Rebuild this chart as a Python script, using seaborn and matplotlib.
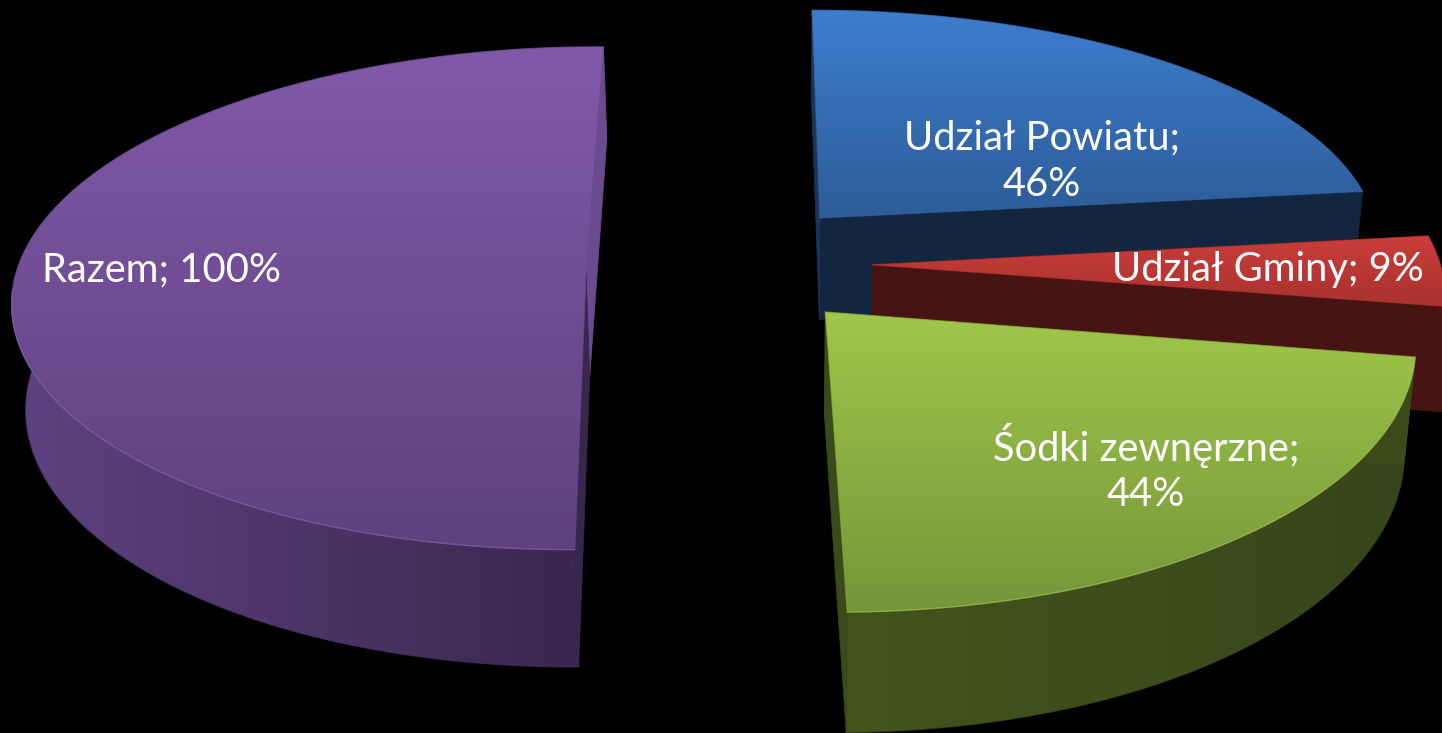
import numpy as np
import seaborn as sns
import matplotlib.pyplot as plt
from matplotlib.patches import Polygon

sns.set_theme(style="white")
plt.rcParams['font.family'] = ['Lato', 'DejaVu Sans']

# values as printed on the labels
categories = ['Udział Powiatu', 'Udział Gminy', 'Śodki zewnęrzne', 'Razem']
shares = [46, 9, 44, 100]
label_lines = ['Udział Powiatu;\n46%', 'Udział Gminy; 9%', 'Śodki zewnęrzne;\n44%', 'Razem; 100%']
label_pos = [(1042, 161), (1268, 270), (1146, 468), (161, 270)]

# colours: top face (far, near), side (left, right), cut faces
top_far = ['#3d7dce', '#cb3d3a', '#a0c74a', '#8159a9']
top_near = ['#2d5c98', '#a93230', '#76953a', '#5f417f']
side_left = ['#13263f', '#461412', '#43541c', '#5e4280']
side_right = ['#13263f', '#461412', '#37461a', '#38264d']
cut_front = ['#13263f', '#461412', '#3a4a18', '#38264d']
cut_back = ['#1a3558', '#461412', '#3a4a18', '#6b4b8f']
rim_col = ['#4a88d4', '#d9605c', '#b4d564', '#9478bd']

# where each slice's tip sits on the pie plane (exploded by hand)
tips = [(0.179, 0.226), (0.268, 0.033), (0.182, -0.154), (-0.235, 0.0)]
radius_x = [0.993, 1.0, 1.012, 1.0]
radius_y = [0.955, 1.0, 1.045, 1.0]
spin = [0, 0, 0, -0.5]
lean = [0.018, 0.0, 0.018, 0.018]

W, H = 1442, 733
A, B, C = 570.0, 72.8, 720.0
E, F, G = -221.6, 273.0, 0.1001


def project(x, y):
    d = 1 + G * y
    return (A * x + B * y + C) / d, (E * y + F) / d


def extrude(u, v, k):
    return u + (790 - u) * k, v + 91 + 0.048 * v


def grad_fill(ax, u, v, c0, c1, z, horizontal=False):
    pts = np.column_stack([u, v])
    pal = np.array(sns.blend_palette([c0, c1], 256))
    img = pal[None, :, :] if horizontal else pal[:, None, :]
    ext = (u.min(), u.max(), v.max(), v.min())
    im = ax.imshow(img, extent=ext, aspect='auto', zorder=z, interpolation='bilinear')
    patch = Polygon(pts, closed=True, transform=ax.transData, facecolor='none', edgecolor='none')
    ax.add_patch(patch)
    im.set_clip_path(patch)
    # soft edge, the clip path alone is jagged
    ax.plot(np.r_[u, u[0]], np.r_[v, v[0]], color=pal[128], lw=0.8, alpha=0.6, zorder=z + 0.1)


fig = plt.figure(figsize=(W / 100, H / 100), dpi=100, facecolor='black')

# the pie gives the slice angles, the picture is drawn in perspective from them
pie_ax = fig.add_axes([0, 0, 1, 1])
wedges, _ = pie_ax.pie(shares, startangle=90, counterclock=False)
pie_ax.set_visible(False)

ax = fig.add_axes([0, 0, 1, 1], facecolor='black')

z = 1
for i, w in enumerate(wedges):
    th = np.radians(np.linspace(w.theta1, w.theta2, 160) + spin[i])
    tx, ty = tips[i]
    arc_u, arc_v = project(tx + radius_x[i] * np.cos(th), ty + radius_y[i] * np.sin(th))
    tip_u, tip_v = project(tx, ty)
    low_u, low_v = extrude(arc_u, arc_v, lean[i])
    ltip_u, ltip_v = extrude(tip_u, tip_v, lean[i])

    # rounded side
    su = np.r_[arc_u, low_u[::-1]]
    sv = np.r_[arc_v, low_v[::-1]]
    grad_fill(ax, su, sv, side_left[i], side_right[i], z, horizontal=True)
    z += 1

    # the two cut faces, theta1 end and theta2 end
    for k in (0, -1):
        far = arc_v[k] < tip_v - 100
        ax.fill([tip_u, arc_u[k], low_u[k], ltip_u], [tip_v, arc_v[k], low_v[k], ltip_v],
                color=cut_back[i] if far else cut_front[i], lw=0.5, zorder=z)
        z += 1

    # top face
    pu = np.r_[tip_u, arc_u]
    pv = np.r_[tip_v, arc_v]
    grad_fill(ax, pu, pv, top_far[i], top_near[i], z)
    z += 1
    front = np.sin(th) < -0.05
    ax.plot(arc_u[front], arc_v[front], color=rim_col[i], lw=1.0, alpha=0.4, zorder=z)
    z += 1

for txt, (lx, ly) in zip(label_lines, label_pos):
    ax.text(lx, ly, txt, color='white', fontsize=28.7, ha='center', va='center',
            linespacing=1.3, zorder=z)

ax.set_xlim(0, W)
ax.set_ylim(H, 0)
ax.axis('off')
fig.savefig('out.png', dpi=100, facecolor='black')
